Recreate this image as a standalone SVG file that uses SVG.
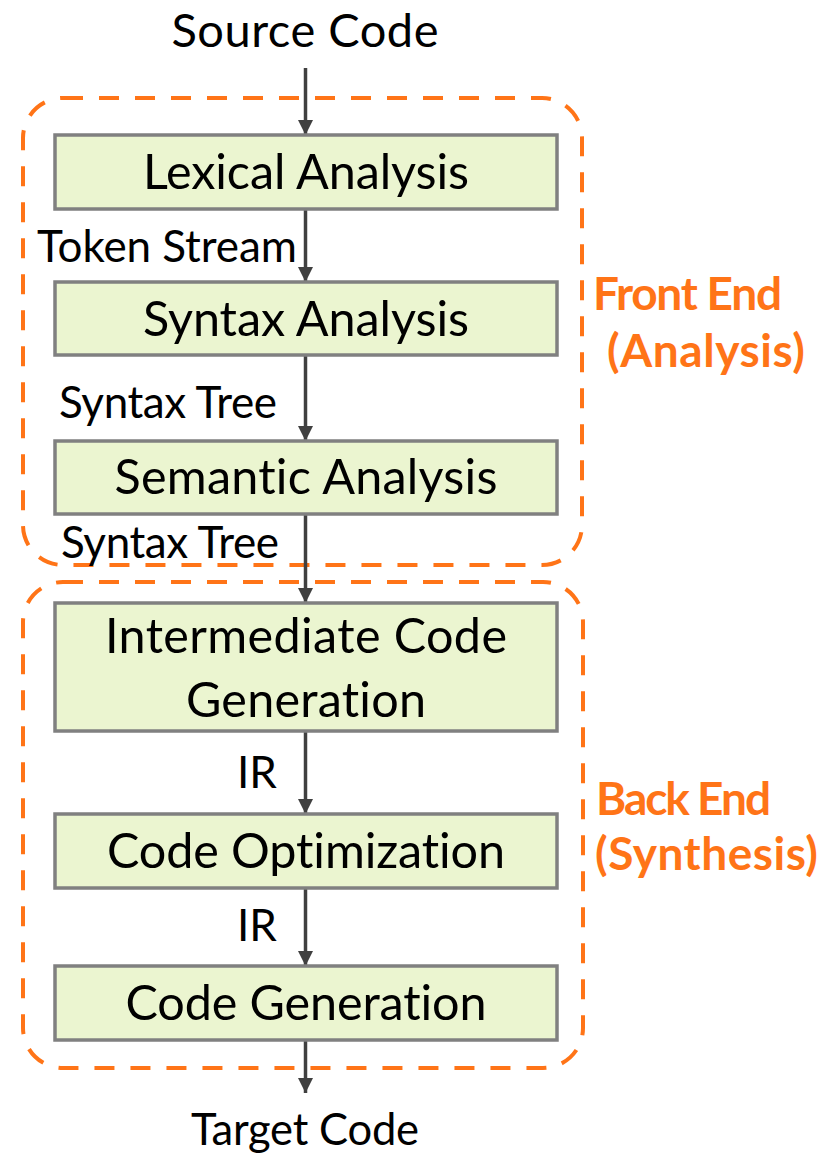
<svg xmlns="http://www.w3.org/2000/svg" width="825" height="1155" viewBox="0 0 825 1155">
<style>
text{font-variant-ligatures:none;font-feature-settings:"liga" 0}
.box{fill:#EBF5D0;stroke:#808080;stroke-width:3.5}
.grp{fill:none;stroke:#FF7417;stroke-width:4;stroke-dasharray:20 16}
.t{font-family:Lato,"Open Sans","Liberation Sans",sans-serif;fill:#000;text-anchor:middle}
.bt{font-size:48.5px}
.lb{font-family:Lato,"Open Sans","Liberation Sans",sans-serif;fill:#000;font-size:44px}
.og{font-family:Lato,"Open Sans","Liberation Sans",sans-serif;fill:#FF7417;font-weight:bold;font-size:46px}
.arr{stroke:#404040;stroke-width:3.5;fill:none;marker-end:url(#ah)}
</style>
<defs>
<marker id="ah" viewBox="0 0 10 10" refX="10" refY="5" markerUnits="userSpaceOnUse" markerWidth="16" markerHeight="15" orient="auto">
<path d="M0,0 L10,5 L0,10 Z" fill="#404040"/>
</marker>
</defs>
<rect width="825" height="1155" fill="#fff"/>
<g id="front-end">
<rect class="grp" x="23" y="98" width="559" height="467" rx="40"/>
<text class="og" x="593" y="310" textLength="189">Front End</text>
<text class="og" x="607" y="367" textLength="198">(Analysis)</text>
</g>
<g id="back-end">
<rect class="grp" x="23" y="582" width="560" height="486" rx="40"/>
<text class="og" x="596" y="815" textLength="175">Back End</text>
<text class="og" x="595" y="870" textLength="223">(Synthesis)</text>
</g>
<g id="connectors">
<line class="arr" x1="305.5" y1="68" x2="305.5" y2="135"/>
<line class="arr" x1="305.5" y1="209" x2="305.5" y2="282"/>
<line class="arr" x1="305.5" y1="355" x2="305.5" y2="441"/>
<line class="arr" x1="305.5" y1="514" x2="305.5" y2="603"/>
<line class="arr" x1="305.5" y1="731" x2="305.5" y2="814"/>
<line class="arr" x1="305.5" y1="888" x2="305.5" y2="966"/>
<line class="arr" x1="305.5" y1="1040" x2="305.5" y2="1093"/>
<text class="lb" x="37" y="262" textLength="260">Token Stream</text>
<text class="lb" x="59" y="418" textLength="218">Syntax Tree</text>
<text class="lb" x="61" y="558" textLength="218">Syntax Tree</text>
<text class="lb" x="237" y="788">IR</text>
<text class="lb" x="237" y="941">IR</text>
</g>
<g id="source">
<text class="t" x="305" y="47" font-size="47" textLength="267">Source Code</text>
</g>
<g id="lexical">
<rect class="box" x="55" y="135" width="502" height="74"/>
<text class="t bt" x="306" y="189" textLength="326">Lexical Analysis</text>
</g>
<g id="syntax">
<rect class="box" x="55" y="282" width="502" height="73"/>
<text class="t bt" x="306" y="336" textLength="326">Syntax Analysis</text>
</g>
<g id="semantic">
<rect class="box" x="55" y="441" width="502" height="73"/>
<text class="t bt" x="306" y="494" textLength="383">Semantic Analysis</text>
</g>
<g id="intermediate">
<rect class="box" x="55" y="603" width="502" height="128"/>
<text class="t bt" x="306" y="653" textLength="402">Intermediate Code</text>
<text class="t bt" x="306" y="717" textLength="240">Generation</text>
</g>
<g id="optimization">
<rect class="box" x="55" y="814" width="502" height="74"/>
<text class="t bt" x="306" y="868" textLength="398">Code Optimization</text>
</g>
<g id="codegen">
<rect class="box" x="55" y="966" width="502" height="74"/>
<text class="t bt" x="306" y="1020" textLength="361">Code Generation</text>
</g>
<g id="target">
<text class="t" x="305" y="1145" font-size="43.5" textLength="228">Target Code</text>
</g>
</svg>
